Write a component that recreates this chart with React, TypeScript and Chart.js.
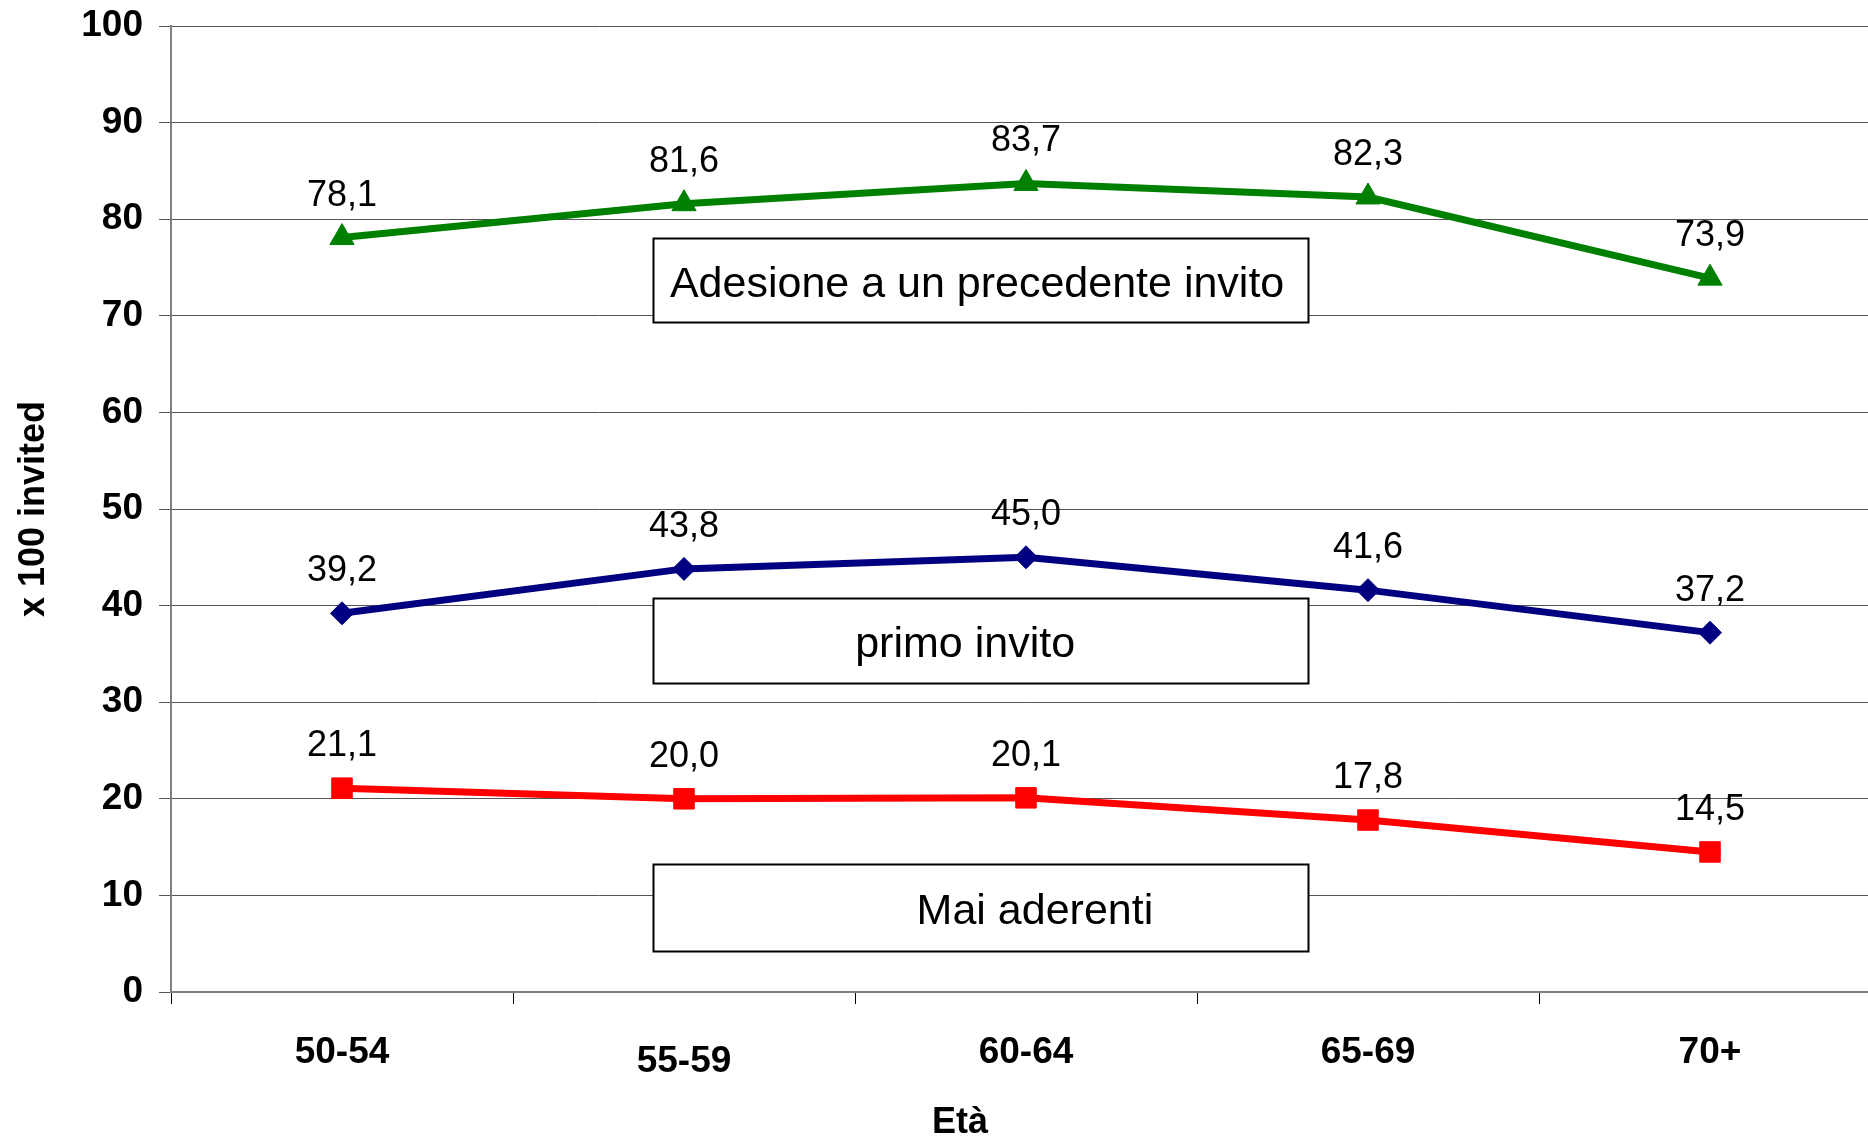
import React, { useEffect, useRef } from 'react';
import { Chart, registerables } from 'chart.js';

Chart.register(...registerables);

// ---- Data ----
const ageGroups = ['50-54', '55-59', '60-64', '65-69', '70+'];
const adesionePrecedente = [78.1, 81.6, 83.7, 82.3, 73.9];
const primoInvito = [39.2, 43.8, 45.0, 41.6, 37.2];
const maiAderenti = [21.1, 20.0, 20.1, 17.8, 14.5];
const yMin = 0;
const yMax = 100;
const yStep = 10;
const yAxisTitle = 'x 100 invited';
const xAxisTitle = 'Età';
const boxLabels = ['Adesione a un precedente invito', 'primo invito', 'Mai aderenti'];

// ---- Annotation box placement (axis units) ----
const boxXFrom = [0.91, 0.91, 0.91];
const boxXTo = [2.825, 2.825, 2.825];
const boxYTop = [78.1, 40.8, 13.2];
const boxYBottom = [69.4, 32.0, 4.2];
const boxTextX = [1.857, 1.822, 2.026];

const FONT = '"Liberation Sans", Arial, Helvetica, sans-serif';
const fmt = (v: number) => v.toFixed(1).replace('.', ',');

const overlayPlugin = {
  id: 'overlay',
  beforeDatasetsDraw(chart: any) {
    const { ctx, scales } = chart;
    const x = scales.x;
    const y = scales.y;
    ctx.save();
    boxLabels.forEach((text, i) => {
      const l = Math.round(x.getPixelForValue(boxXFrom[i])) + 0.5;
      const r = Math.round(x.getPixelForValue(boxXTo[i])) + 0.5;
      const t = Math.round(y.getPixelForValue(boxYTop[i])) + 0.5;
      const b = Math.round(y.getPixelForValue(boxYBottom[i])) + 0.5;
      ctx.fillStyle = '#ffffff';
      ctx.fillRect(l, t, r - l, b - t);
      ctx.lineWidth = 2;
      ctx.strokeStyle = '#000000';
      ctx.strokeRect(l, t, r - l, b - t);
      ctx.font = `43px ${FONT}`;
      ctx.textAlign = 'center';
      ctx.textBaseline = 'alphabetic';
      ctx.fillStyle = '#000000';
      ctx.fillText(text, x.getPixelForValue(boxTextX[i]), (t + b) / 2 + 16);
    });
    ctx.restore();
  },
  afterDatasetsDraw(chart: any) {
    const { ctx, scales } = chart;
    ctx.save();
    ctx.font = `36px ${FONT}`;
    ctx.textAlign = 'center';
    ctx.textBaseline = 'alphabetic';
    ctx.fillStyle = '#000000';
    chart.data.datasets.forEach((ds: any, di: number) => {
      const meta = chart.getDatasetMeta(di);
      meta.data.forEach((pt: any, i: number) => {
        ctx.fillText(fmt(ds.data[i]), pt.x, pt.y - 32);
      });
    });
    // x axis title
    ctx.font = `bold 36px ${FONT}`;
    ctx.textBaseline = 'middle';
    ctx.fillText(xAxisTitle, scales.x.getPixelForValue(1.807), chart.height - 17);
    ctx.restore();
  },
};

export default function App() {
  const canvasRef = useRef<HTMLCanvasElement | null>(null);

  useEffect(() => {
    const canvas = canvasRef.current;
    if (!canvas) return;
    const chart = new Chart(canvas, {
      type: 'line',
      data: {
        labels: ageGroups,
        datasets: [
          {
            label: boxLabels[0],
            data: adesionePrecedente,
            borderColor: '#008000',
            backgroundColor: '#008000',
            borderWidth: 7,
            pointStyle: 'triangle',
            pointRadius: 14,
            pointBorderWidth: 1,
            pointBackgroundColor: '#008000',
            pointBorderColor: '#008000',
            tension: 0,
          },
          {
            label: boxLabels[1],
            data: primoInvito,
            borderColor: '#000080',
            backgroundColor: '#000080',
            borderWidth: 7,
            pointStyle: 'rectRot',
            pointRadius: 11.5,
            pointBorderWidth: 1,
            pointBackgroundColor: '#000080',
            pointBorderColor: '#000080',
            tension: 0,
          },
          {
            label: boxLabels[2],
            data: maiAderenti,
            borderColor: '#ff0000',
            backgroundColor: '#ff0000',
            borderWidth: 7,
            pointStyle: 'rect',
            pointRadius: 14.5,
            pointBorderWidth: 1,
            pointBackgroundColor: '#ff0000',
            pointBorderColor: '#ff0000',
            tension: 0,
          },
        ],
      },
      options: {
        responsive: false,
        animation: false,
        devicePixelRatio: 1,
        layout: { padding: { top: 26, right: 19, bottom: 0, left: 0 } },
        plugins: {
          legend: { display: false },
          tooltip: { enabled: false },
        },
        scales: {
          x: {
            type: 'category',
            offset: true,
            afterFit: (scale: any) => {
              scale.height = 148;
              scale.paddingLeft = 0;
              scale.paddingRight = 0;
            },
            grid: {
              display: true,
              drawOnChartArea: false,
              drawTicks: true,
              tickLength: 12,
              offset: true,
              color: '#000000',
              lineWidth: 1,
            },
            border: { display: true, color: '#808080', width: 2 },
            ticks: {
              color: '#000000',
              padding: 27,
              maxRotation: 0,
              autoSkip: false,
              font: (ctx: any) => ({
                family: FONT,
                size: 37,
                weight: 'bold',
                lineHeight: ctx.index === 1 ? 1.67 : 1.2,
              }),
            },
            title: { display: false },
          },
          y: {
            min: yMin,
            max: yMax,
            afterFit: (scale: any) => {
              scale.width = 171;
              scale.paddingTop = 0;
              scale.paddingBottom = 0;
            },
            grid: {
              color: '#555555',
              lineWidth: 1,
              drawTicks: true,
              tickLength: 12,
            },
            border: { display: true, color: '#808080', width: 2 },
            ticks: {
              stepSize: yStep,
              color: '#000000',
              padding: 16,
              font: { family: FONT, size: 37, weight: 'bold' },
            },
            title: {
              display: true,
              text: yAxisTitle,
              color: '#000000',
              font: { family: FONT, size: 36, weight: 'bold', lineHeight: 1.2 },
              padding: { top: 12, bottom: 0 },
            },
          },
        },
      },
      plugins: [overlayPlugin],
    });
    return () => {
      chart.destroy();
    };
  }, []);

  return (
    <div
      style={{
        position: 'fixed',
        left: 0,
        top: 0,
        width: 1868,
        height: 1140,
        overflow: 'hidden',
        background: '#ffffff',
      }}
    >
      <canvas
        ref={canvasRef}
        width={1900}
        height={1140}
        style={{ display: 'block', width: 1900, height: 1140 }}
      />
    </div>
  );
}
